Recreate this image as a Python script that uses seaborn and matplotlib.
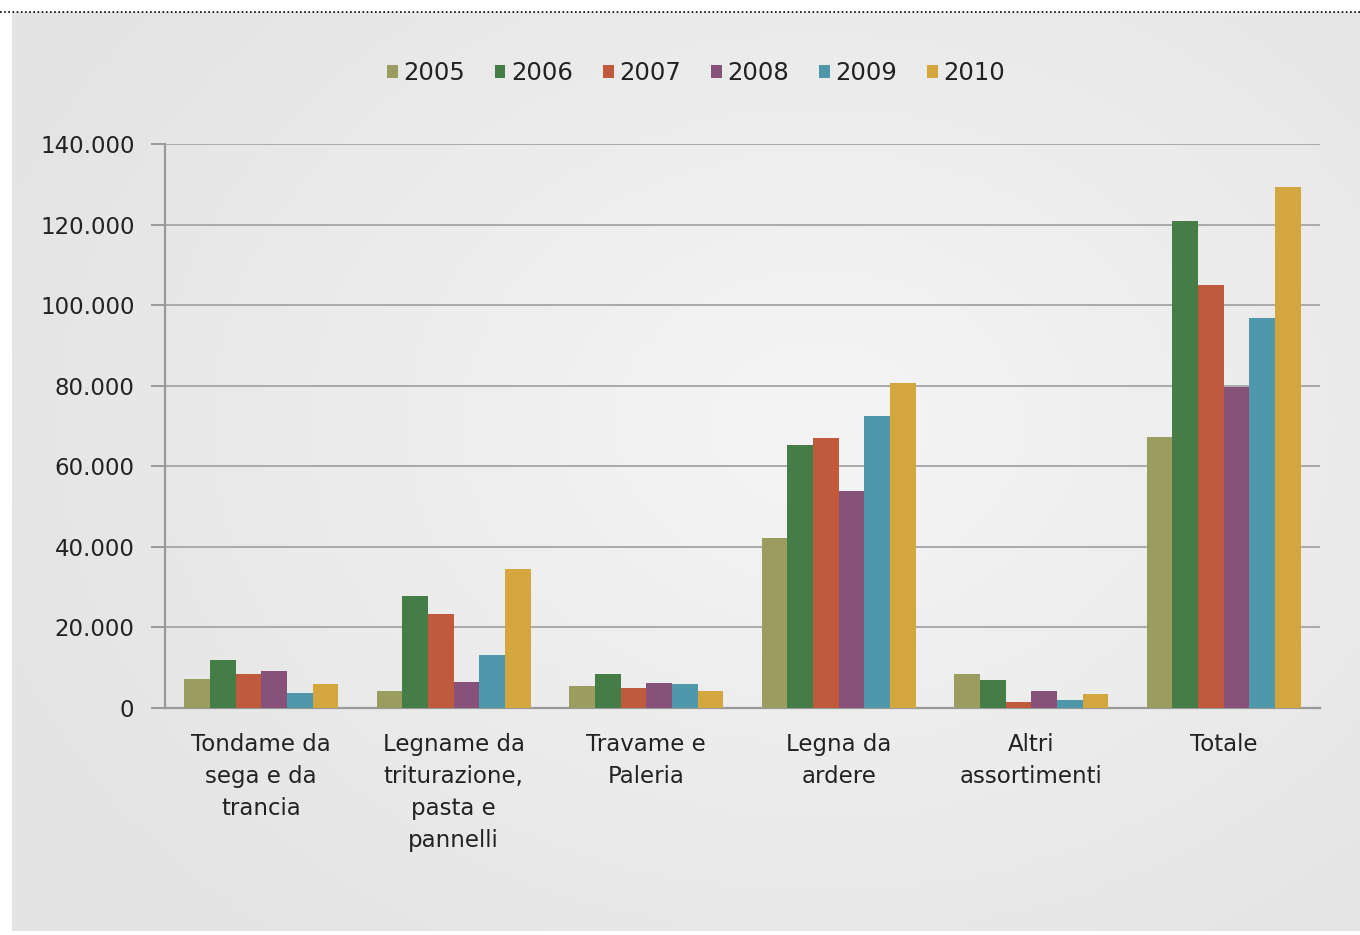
import numpy as np
import pandas as pd
import seaborn as sns
import matplotlib.pyplot as plt
from matplotlib.lines import Line2D
from matplotlib.colors import LinearSegmentedColormap
from matplotlib.ticker import FuncFormatter

categories = [
    "Tondame da\nsega e da\ntrancia",
    "Legname da\ntriturazione,\npasta e\npannelli",
    "Travame e\nPaleria",
    "Legna da\nardere",
    "Altri\nassortimenti",
    "Totale",
]
years = ["2005", "2006", "2007", "2008", "2009", "2010"]
v2005 = [7200, 4200, 5500, 42200, 8400, 67300]
v2006 = [11900, 27800, 8400, 65300, 7000, 120900]
v2007 = [8400, 23300, 5000, 67000, 1500, 105000]
v2008 = [9200, 6500, 6200, 53900, 4200, 79700]
v2009 = [3700, 13200, 6000, 72500, 2000, 96800]
v2010 = [6000, 34500, 4200, 80700, 3500, 129300]
colors = ["#9a9d5f", "#467c45", "#bf5a3d", "#87527a", "#4f97aa", "#d3a73d"]

series = [v2005, v2006, v2007, v2008, v2009, v2010]
df = pd.DataFrame(
    [(c, y, v) for y, vals in zip(years, series) for c, v in zip(categories, vals)],
    columns=["categoria", "anno", "valore"],
)

sns.set_style("white")
plt.rcParams["font.family"] = ["DejaVu Sans"]

fig = plt.figure(figsize=(13.6, 9.35), dpi=100)
fig.patch.set_facecolor("white")

# light gray gradient panel behind the chart
bg = fig.add_axes([12 / 1360, 4 / 935, 1 - 12 / 1360, 1 - 16 / 935])
yy, xx = np.mgrid[0:1:200j, 0:1:300j]
r = np.sqrt(((xx - 0.6) / 0.8) ** 2 + ((yy - 0.45) / 0.9) ** 2)
panel_cmap = LinearSegmentedColormap.from_list("panel", ["#f3f3f3", "#e3e3e3"])
bg.imshow(r, cmap=panel_cmap, vmin=0.1, vmax=0.85, aspect="auto", extent=[0, 1, 0, 1])
bg.axis("off")
fig.add_artist(Line2D([0, 1], [1 - 12 / 935] * 2, color="black", lw=1.2, ls=(0, (1, 1.5))))

ax = fig.add_axes([165 / 1360, 1 - 708 / 935, (1320 - 165) / 1360, (708 - 144) / 935])
ax.set_facecolor("none")
sns.barplot(data=df, x="categoria", y="valore", hue="anno", palette=colors,
            width=0.8, saturation=1, edgecolor="none", ax=ax, zorder=3)

ax.set_ylim(0, 140000)
ax.set_xlim(-0.5, 5.5)
ax.set_yticks(np.arange(0, 140001, 20000))
ax.yaxis.set_major_formatter(FuncFormatter(lambda v, p: f"{v:,.0f}".replace(",", ".")))
ax.grid(axis="y", color="#aaaaaa", lw=1.4, zorder=0)
ax.set_axisbelow(True)
ax.set_xlabel("")
ax.set_ylabel("")

ax.set_xticks(range(len(categories)))
ax.set_xticklabels(categories, linespacing=1.5)
ax.set_xticks(np.arange(-0.5, 6, 1), minor=True)
ax.tick_params(axis="x", which="major", length=0, pad=18, labelsize=16.5, labelcolor="#222222")
ax.tick_params(axis="x", which="minor", length=8, width=1.4, color="#999999", direction="out")
ax.tick_params(axis="y", length=10, width=1.4, color="#999999", direction="out", pad=12,
               labelsize=16.5, labelcolor="#222222", left=True)

for s in ["top", "right"]:
    ax.spines[s].set_visible(False)
for s in ["left", "bottom"]:
    ax.spines[s].set_color("#999999")
    ax.spines[s].set_linewidth(1.6)

ax.legend(loc="center", bbox_to_anchor=(696 / 1360, 1 - 73 / 935), bbox_transform=fig.transFigure,
          ncol=6, frameon=False, fontsize=17.5, handlelength=0.45, handleheight=0.45,
          handletextpad=0.25, columnspacing=1.2, labelcolor="#222222")

fig.savefig("out.png", dpi=100)
